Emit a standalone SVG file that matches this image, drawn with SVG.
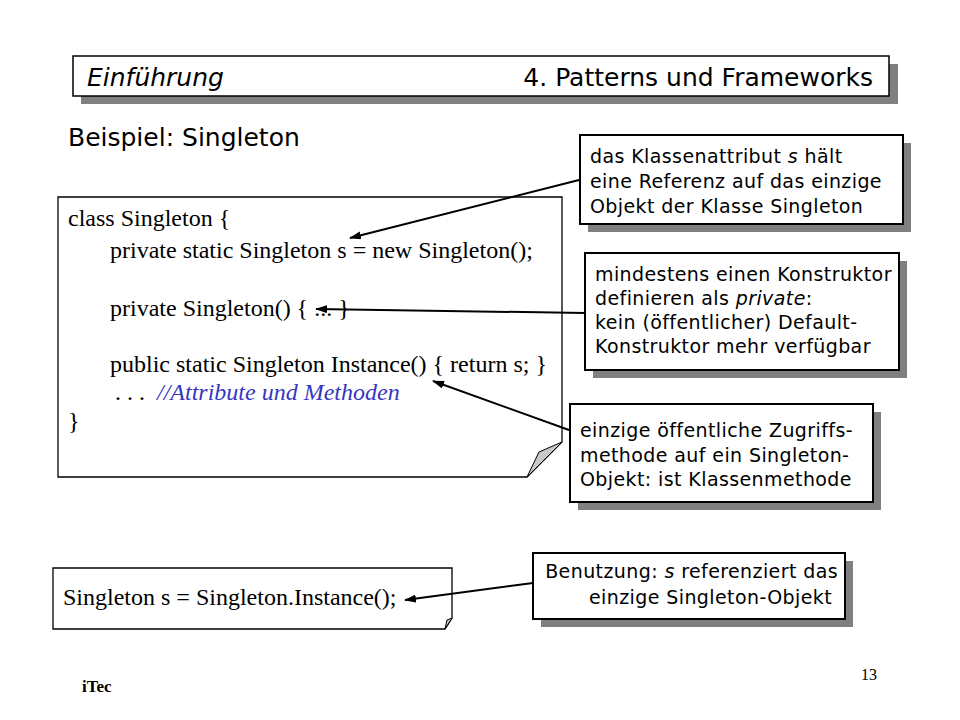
<svg xmlns="http://www.w3.org/2000/svg" width="960" height="720" viewBox="0 0 960 720">
<defs>
<marker id="ah" markerWidth="12" markerHeight="8" refX="11" refY="4" orient="auto" markerUnits="userSpaceOnUse">
<path d="M0,0 L12,4 L0,8 Z" fill="#000"/>
</marker>
<style>
.shadow{fill:#808080;stroke:none}
.box{fill:#fff;stroke:#000;stroke-width:2}
.code{fill:#fff;stroke:#000;stroke-width:1.3}
.fold{fill:#c8c8c8;stroke:#000;stroke-width:1}
.sans{font-family:"DejaVu Sans","Open Sans",sans-serif;fill:#000}
.note{font-family:"DejaVu Sans","Open Sans",sans-serif;font-size:19px;letter-spacing:0.4px;fill:#000}
.serif{font-family:"Liberation Serif","Times New Roman",serif;font-size:24px;fill:#000}
.it{font-style:italic}
.cmt{fill:#3636c0;font-style:italic}
.conn{stroke:#000;stroke-width:2;fill:none;marker-end:url(#ah)}
</style>
</defs>
<rect width="960" height="720" fill="#fff"/>

<g id="header">
<rect class="shadow" x="81" y="64" width="817" height="40"/>
<rect x="73" y="56" width="816" height="40" fill="#fff" stroke="#000" stroke-width="1.5"/>
<text class="sans it" x="87" y="86" font-size="25">Einführung</text>
<text class="sans" x="873" y="86" font-size="25" text-anchor="end">4. Patterns und Frameworks</text>
</g>

<g id="title">
<text class="sans" x="68" y="146" font-size="25">Beispiel: Singleton</text>
</g>

<g id="code">
<path class="code" d="M58,197 H562 V442 L527,477 H58 Z"/>
<polygon class="fold" points="562,442 527,477 539,452"/>
<text class="serif" x="68" y="226">class Singleton {</text>
<text class="serif" x="110" y="258">private static Singleton s = new Singleton();</text>
<text class="serif" x="110" y="316">private Singleton() { ... }</text>
<text class="serif" x="110" y="372">public static Singleton Instance() { return s; }</text>
<text class="serif" x="115" y="400">. . .<tspan class="cmt" x="157">//Attribute und Methoden</tspan></text>
<text class="serif" x="68" y="429">}</text>
</g>

<g id="usage-code">
<path class="code" d="M53,568 H452 V618 L445,629 H53 Z"/>
<polygon class="fold" points="452,618 445,629 447,620"/>
<text class="serif" x="63" y="605">Singleton s = Singleton.Instance();</text>
</g>

<g id="note-attribute">
<rect class="shadow" x="588" y="143" width="323" height="89"/>
<rect class="box" x="580" y="135" width="323" height="89"/>
<text class="note" x="590" y="163">das Klassenattribut <tspan class="it">s</tspan> hält</text>
<text class="note" x="590" y="188">eine Referenz auf das einzige</text>
<text class="note" x="590" y="213">Objekt der Klasse Singleton</text>
</g>

<g id="note-constructor">
<rect class="shadow" x="593" y="261" width="314" height="117"/>
<rect class="box" x="585" y="253" width="314" height="117"/>
<text class="note" x="595" y="281">mindestens einen Konstruktor</text>
<text class="note" x="595" y="305">definieren als <tspan class="it">private</tspan>:</text>
<text class="note" x="595" y="329">kein (öffentlicher) Default-</text>
<text class="note" x="595" y="353">Konstruktor mehr verfügbar</text>
</g>

<g id="note-instance">
<rect class="shadow" x="578" y="412" width="303" height="98"/>
<rect class="box" x="570" y="404" width="303" height="98"/>
<text class="note" x="580" y="437">einzige öffentliche Zugriffs-</text>
<text class="note" x="580" y="462">methode auf ein Singleton-</text>
<text class="note" x="580" y="486">Objekt: ist Klassenmethode</text>
</g>

<g id="note-usage">
<rect class="shadow" x="541" y="561" width="312" height="66"/>
<rect class="box" x="533" y="553" width="312" height="66"/>
<text class="note" x="838" y="578" text-anchor="end">Benutzung: <tspan class="it">s</tspan> referenziert das</text>
<text class="note" x="832" y="604" text-anchor="end">einzige Singleton-Objekt</text>
</g>

<g id="connectors">
<line class="conn" x1="579" y1="180" x2="350" y2="238"/>
<line class="conn" x1="585" y1="313" x2="316" y2="309"/>
<line class="conn" x1="569" y1="430" x2="433" y2="381"/>
<line class="conn" x1="533" y1="583" x2="405" y2="600"/>
</g>

<g id="footer">
<text x="82" y="692" font-family="Liberation Serif, serif" font-weight="bold" font-size="17">iTec</text>
<text x="877" y="680" font-family="Liberation Serif, serif" font-size="16" text-anchor="end">13</text>
</g>
</svg>
